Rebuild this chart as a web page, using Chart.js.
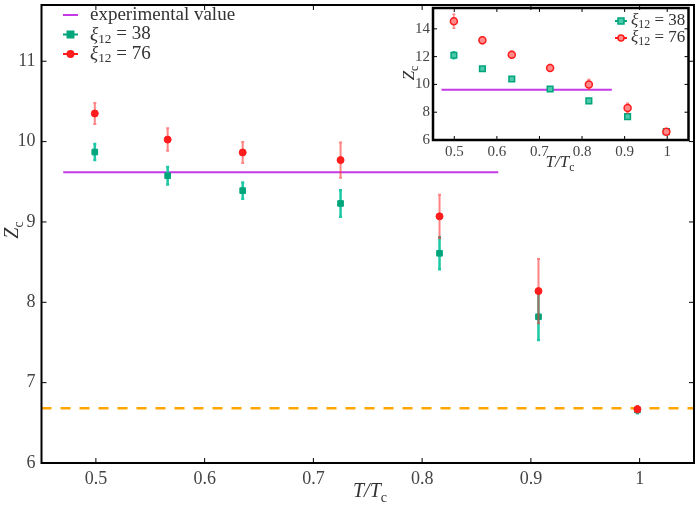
<!DOCTYPE html>
<html lang="en">
<head>
<meta charset="UTF-8">
<title>Z_c vs T/T_c</title>
<script src="https://cdn.jsdelivr.net/npm/chart.js@4/dist/chart.umd.min.js"></script>
<style>
  html, body { margin: 0; padding: 0; background: #fff; }
  #wrap { position: relative; width: 699px; height: 506px; }
  #main { position: absolute; left: 0; top: 0; width: 699px; height: 506px; }
  #inset { position: absolute; left: 398px; top: 0; width: 296px; height: 180px; }
</style>
</head>
<body>
<div id="wrap">
  <div id="main"><canvas id="mainChart"></canvas></div>
  <div id="inset"><canvas id="insetChart"></canvas></div>
</div>
<script>
// data
const tRatio = [0.499, 0.566, 0.635, 0.725, 0.816, 0.907, 0.998];
const z38 = [9.87, 9.575, 9.39, 9.23, 8.61, 7.82, 6.66];
const err38 = [0.1, 0.11, 0.1, 0.165, 0.2, 0.29, 0.04];
const z76 = [10.35, 10.025, 9.865, 9.77, 9.07, 8.14, 6.67];
const err76 = [0.13, 0.14, 0.13, 0.22, 0.27, 0.4, 0.04];
const expValue = 9.62;
const expRange = [0.47, 0.87];
const limitValue = 6.68;
const limitRange = [0.45, 1.05];

// inset
const z38Inset = [12.1, 11.13, 10.39, 9.67, 8.82, 7.68, 6.6];
const err38Inset = [0.25, 0.15, 0.12, 0.12, 0.12, 0.15, 0.1];
const z76Inset = [14.55, 13.18, 12.14, 11.19, 10.0, 8.3, 6.6];
const err76Inset = [0.5, 0.25, 0.25, 0.25, 0.35, 0.35, 0.1];

const xTicks = [0.5, 0.6, 0.7, 0.8, 0.9, 1];
const yTicks = [6, 7, 8, 9, 10, 11];
const yTicksInset = [6, 8, 10, 12, 14];

const GREEN = '#00a57c';
const GREEN_BAR = '#1cc9a4';
const RED = '#ff1c1c';
const RED_BAR = 'rgba(255,50,50,0.6)';
const PURPLE = '#c43be6';
const ORANGE = '#ffa500';
const SERIF = '"Liberation Serif", "DejaVu Serif", serif';

const pts = (xs, ys) => xs.map((x, i) => ({ x: x, y: ys[i] }));

// rich text: pieces {t, it, sub}
function drawRich(ctx, x, y, parts, size) {
  let cx = x;
  parts.forEach(p => {
    const s = p.sub ? size * 0.7 : size;
    ctx.font = (p.it ? 'italic ' : '') + s + 'px ' + SERIF;
    ctx.fillText(p.t, cx, p.sub ? y + size * 0.25 : y);
    cx += ctx.measureText(p.t).width;
  });
  return cx - x;
}
function richWidth(ctx, parts, size) {
  let w = 0;
  parts.forEach(p => {
    const s = p.sub ? size * 0.7 : size;
    ctx.font = (p.it ? 'italic ' : '') + s + 'px ' + SERIF;
    w += ctx.measureText(p.t).width;
  });
  return w;
}

const tLabel = [{ t: 'T/T', it: true }, { t: 'c', sub: true }];
const zLabel = [{ t: 'Z', it: true }, { t: 'c', sub: true }];
const lab38 = [{ t: 'ξ', it: true }, { t: '12', sub: true }, { t: ' = 38' }];
const lab76 = [{ t: 'ξ', it: true }, { t: '12', sub: true }, { t: ' = 76' }];
const labExp = [{ t: 'experimental value' }];

const errorBars = {
  id: 'errorBars',
  beforeDatasetDraw(chart, args) {
    const ds = chart.data.datasets[args.index];
    if (!ds.errors) return;
    const { ctx, scales: { x, y } } = chart;
    ctx.save();
    ctx.strokeStyle = ds.barColor;
    ctx.lineWidth = ds.barWidth || 2;
    ds.data.forEach((p, i) => {
      const px = x.getPixelForValue(p.x);
      const y1 = y.getPixelForValue(p.y - ds.errors[i]);
      const y2 = y.getPixelForValue(p.y + ds.errors[i]);
      ctx.beginPath();
      ctx.moveTo(px, y1); ctx.lineTo(px, y2);
      ctx.moveTo(px - 1.5, y1); ctx.lineTo(px + 1.5, y1);
      ctx.moveTo(px - 1.5, y2); ctx.lineTo(px + 1.5, y2);
      ctx.stroke();
    });
    ctx.restore();
  }
};

const decor = {
  id: 'decor',
  afterDraw(chart, args, o) {
    const { ctx, chartArea: a, scales: { x, y } } = chart;
    ctx.save();
    // inward ticks on all sides
    ctx.strokeStyle = '#000';
    ctx.lineWidth = 1;
    ctx.beginPath();
    o.xt.forEach(v => {
      const px = x.getPixelForValue(v);
      ctx.moveTo(px, a.bottom); ctx.lineTo(px, a.bottom - o.tick);
      ctx.moveTo(px, a.top); ctx.lineTo(px, a.top + o.tick);
    });
    o.yt.forEach(v => {
      const py = y.getPixelForValue(v);
      ctx.moveTo(a.left, py); ctx.lineTo(a.left + o.tick, py);
      ctx.moveTo(a.right, py); ctx.lineTo(a.right - o.tick, py);
    });
    ctx.stroke();
    // frame
    ctx.lineWidth = o.frame;
    ctx.strokeRect(a.left, a.top, a.right - a.left, a.bottom - a.top);

    // axis titles
    ctx.fillStyle = '#333';
    ctx.textBaseline = 'alphabetic';
    ctx.textAlign = 'left';
    const tw = richWidth(ctx, tLabel, o.titleSize);
    drawRich(ctx, o.xTitle[0] - tw / 2, o.xTitle[1], tLabel, o.titleSize);
    ctx.save();
    ctx.translate(o.yTitle[0], o.yTitle[1]);
    ctx.rotate(-Math.PI / 2);
    const zw = richWidth(ctx, zLabel, o.titleSize);
    drawRich(ctx, -zw / 2, 0, zLabel, o.titleSize);
    ctx.restore();

    // legend
    ctx.textBaseline = 'middle';
    o.legend.forEach((it, i) => {
      const ly = o.legY + i * o.legGap;
      const ds = chart.data.datasets[it.ds];
      ctx.strokeStyle = ds.borderColor;
      ctx.lineWidth = 2;
      ctx.beginPath();
      ctx.moveTo(o.legX, ly); ctx.lineTo(o.legX + o.legLen, ly);
      ctx.stroke();
      if (it.marker) {
        const mx = o.legX + o.legLen / 2;
        ctx.fillStyle = ds.pointBackgroundColor;
        ctx.strokeStyle = ds.pointBorderColor;
        ctx.lineWidth = 1.5;
        ctx.beginPath();
        if (it.marker === 'rect') ctx.rect(mx - o.mk, ly - o.mk, o.mk * 2, o.mk * 2);
        else ctx.arc(mx, ly, o.mk, 0, Math.PI * 2);
        ctx.fill(); ctx.stroke();
      }
      ctx.fillStyle = '#333';
      drawRich(ctx, o.legX + o.legLen + o.legPad, ly, it.parts, o.legSize);
    });
    ctx.restore();
  }
};

function fixTicks(list) {
  return axis => { axis.ticks = list.map(v => ({ value: v })); };
}
function fitX(h) {
  return s => { s.height = h; s.paddingLeft = 0; s.paddingRight = 0; };
}
function fitY(w) {
  return s => { s.width = w; s.paddingTop = 0; s.paddingBottom = 0; };
}

// main chart
new Chart(document.getElementById('mainChart'), {
  type: 'scatter',
  data: {
    datasets: [
      {
        label: 'ξ12 = 76', data: pts(tRatio, z76), errors: err76,
        barColor: RED_BAR, barWidth: 2,
        pointStyle: 'circle', pointRadius: 3.5,
        pointBackgroundColor: RED, pointBorderColor: RED, borderColor: RED,
        order: 0
      },
      {
        label: 'ξ12 = 38', data: pts(tRatio, z38), errors: err38,
        barColor: GREEN_BAR, barWidth: 2.5,
        pointStyle: 'rect', pointRadius: 4,
        pointBackgroundColor: GREEN, pointBorderColor: GREEN, borderColor: GREEN,
        order: 1
      },
      {
        label: 'experimental value', data: pts(expRange, [expValue, expValue]),
        showLine: true, borderColor: PURPLE, borderWidth: 2, pointRadius: 0,
        order: 2
      },
      {
        label: 'limit', data: pts(limitRange, [limitValue, limitValue]),
        showLine: true, borderColor: ORANGE, borderWidth: 2.5, borderDash: [10, 9],
        pointRadius: 0, order: 3
      }
    ]
  },
  options: {
    responsive: true,
    maintainAspectRatio: false,
    animation: false,
    layout: { padding: { top: 2, right: 5, left: 0, bottom: 0 } },
    scales: {
      x: {
        type: 'linear', min: 0.45, max: 1.05,
        afterBuildTicks: fixTicks(xTicks),
        afterFit: fitX(43),
        grid: { display: false, drawTicks: false },
        border: { display: false },
        ticks: { padding: 5, color: '#444', font: { family: SERIF, size: 18 },
                 callback: v => String(v) }
      },
      y: {
        min: 6, max: 11.7,
        afterBuildTicks: fixTicks(yTicks),
        afterFit: fitY(41.5),
        grid: { display: false, drawTicks: false },
        border: { display: false },
        ticks: { padding: 6, color: '#444', font: { family: SERIF, size: 18 },
                 callback: v => String(v) }
      }
    },
    plugins: {
      legend: { display: false },
      tooltip: { enabled: false },
      decor: {
        xt: xTicks, yt: yTicks, tick: 5, frame: 2,
        titleSize: 20, xTitle: [370, 497], yTitle: [18, 230],
        legX: 63, legY: 15, legGap: 19.5, legLen: 15, legPad: 12, legSize: 19, mk: 3.2,
        legend: [
          { ds: 2, parts: labExp },
          { ds: 1, parts: lab38, marker: 'rect' },
          { ds: 0, parts: lab76, marker: 'circle' }
        ]
      }
    }
  },
  plugins: [errorBars, decor]
});

// inset chart
new Chart(document.getElementById('insetChart'), {
  type: 'scatter',
  data: {
    datasets: [
      {
        label: 'ξ12 = 76', data: pts(tRatio, z76Inset), errors: err76Inset,
        barColor: RED_BAR, barWidth: 1.5,
        pointStyle: 'circle', pointRadius: 3.5, pointBorderWidth: 1.5,
        pointBackgroundColor: '#ff8a8a', pointBorderColor: RED, borderColor: RED,
        order: 0
      },
      {
        label: 'ξ12 = 38', data: pts(tRatio, z38Inset), errors: err38Inset,
        barColor: GREEN_BAR, barWidth: 1.5,
        pointStyle: 'rect', pointRadius: 4, pointBorderWidth: 1.5,
        pointBackgroundColor: '#4cc9aa', pointBorderColor: GREEN, borderColor: GREEN,
        order: 1
      },
      {
        label: 'experimental value', data: pts(expRange, [expValue, expValue]),
        showLine: true, borderColor: PURPLE, borderWidth: 2, pointRadius: 0,
        order: 2
      }
    ]
  },
  options: {
    responsive: true,
    maintainAspectRatio: false,
    animation: false,
    layout: { padding: { top: 8, right: 5, left: 0, bottom: 0 } },
    scales: {
      x: {
        type: 'linear', min: 0.45, max: 1.05,
        afterBuildTicks: fixTicks(xTicks),
        afterFit: fitX(40),
        grid: { display: false, drawTicks: false },
        border: { display: false },
        ticks: { padding: 3, color: '#444', font: { family: SERIF, size: 15 },
                 callback: v => String(v) }
      },
      y: {
        min: 6, max: 15.5,
        afterBuildTicks: fixTicks(yTicksInset),
        afterFit: fitY(35),
        grid: { display: false, drawTicks: false },
        border: { display: false },
        ticks: { padding: 3, color: '#444', font: { family: SERIF, size: 15 },
                 callback: v => String(v) }
      }
    },
    plugins: {
      legend: { display: false },
      tooltip: { enabled: false },
      decor: {
        xt: xTicks, yt: yTicksInset, tick: 4, frame: 2.5,
        titleSize: 17, xTitle: [162, 167], yTitle: [16, 73],
        legX: 217, legY: 21, legGap: 17, legLen: 12, legPad: 4, legSize: 17, mk: 3,
        legend: [
          { ds: 1, parts: lab38, marker: 'rect' },
          { ds: 0, parts: lab76, marker: 'circle' }
        ]
      }
    }
  },
  plugins: [errorBars, decor]
});
</script>
</body>
</html>
